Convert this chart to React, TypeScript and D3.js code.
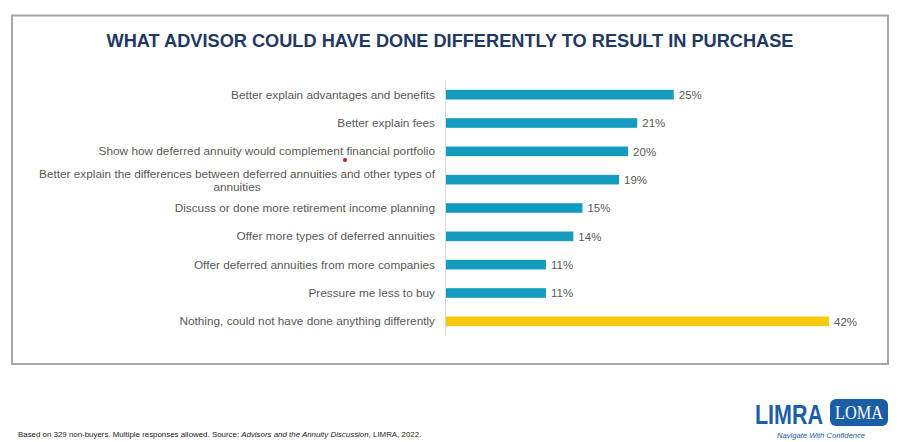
import React from "react";
import * as d3 from "d3";

const categories: string[][] = [
  ["Better explain advantages and benefits"],
  ["Better explain fees"],
  ["Show how deferred annuity would complement financial portfolio"],
  ["Better explain the differences between deferred annuities and other types of", "annuities"],
  ["Discuss or done more retirement income planning"],
  ["Offer more types of deferred annuities"],
  ["Offer deferred annuities from more companies"],
  ["Pressure me less to buy"],
  ["Nothing, could not have done anything differently"],
];
const values: number[] = [25, 21, 20, 19, 15, 14, 11, 11, 42];
const highlight: boolean[] = [false, false, false, false, false, false, false, false, true];

const title = "WHAT ADVISOR COULD HAVE DONE DIFFERENTLY TO RESULT IN PURCHASE";
const footerA = "Based on 329 non-buyers. Multiple responses allowed. Source: ";
const footerB = "Advisors and the Annuity Discussion";
const footerC = ", LIMRA, 2022.";

const W = 900;
const H = 442;
const narrow = "'Liberation Sans Narrow', 'Arial Narrow', 'Liberation Sans', Arial, sans-serif";
const sans = "'Liberation Sans', Arial, sans-serif";

export default function App() {
  const x0 = 445.5;
  const x = d3.scaleLinear().domain([0, 42]).range([x0, 829]);
  const y = d3
    .scaleBand<number>()
    .domain(d3.range(values.length))
    .range([80.5, 335.5])
    .paddingInner(0.66)
    .paddingOuter(0.33);

  return (
    <div style={{ position: "fixed", left: 0, top: 0, width: W, height: H, background: "#fff" }}>
      <svg width={W} height={H} style={{ display: "block" }}>
        <rect x={0} y={0} width={W} height={H} fill="#fff" />
        <rect x={12} y={15.5} width={876} height={348.5} fill="#fff" stroke="#a6a6a6" strokeWidth={2} />
        <text
          x={450}
          y={47}
          textAnchor="middle"
          fontFamily={narrow}
          fontWeight="bold"
          fontSize={18.5}
          fill="#1f3864"
          textLength={687}
          lengthAdjust="spacingAndGlyphs"
        >
          {title}
        </text>

        {values.map((v, i) => {
          const yc = (y(i) as number) + y.bandwidth() / 2;
          const lines = categories[i];
          return (
            <g key={i}>
              <rect
                x={x(0)}
                y={y(i)}
                width={x(v) - x(0)}
                height={y.bandwidth()}
                fill={highlight[i] ? "#f8c80a" : "#139bc0"}
              />
              <text
                x={x(v) + 5}
                y={yc + 4.2}
                fontFamily={sans}
                fontSize={11.5}
                fill="#595959"
              >
                {v}%
              </text>
              {lines.length === 1 ? (
                <text
                  x={435}
                  y={yc + 4}
                  textAnchor="end"
                  fontFamily={sans}
                  fontSize={11.8}
                  fill="#595959"
                >
                  {lines[0]}
                </text>
              ) : (
                <text
                  x={237}
                  y={yc - 1.5}
                  textAnchor="middle"
                  fontFamily={sans}
                  fontSize={11.8}
                  fill="#595959"
                >
                  {lines.map((l, k) => (
                    <tspan key={k} x={237} dy={k === 0 ? 0 : 12.5}>
                      {l}
                    </tspan>
                  ))}
                </text>
              )}
            </g>
          );
        })}
        <line x1={x0} x2={x0} y1={80.5} y2={336} stroke="#d9d9d9" strokeWidth={1} />
        <circle cx={345} cy={160} r={2} fill="#d0101a" />

        <text x={18} y={437} fontFamily={sans} fontSize={7.9} fill="#222">
          {footerA}
          <tspan fontStyle="italic">{footerB}</tspan>
          {footerC}
        </text>

        <g>
          <text
            x={755}
            y={424}
            fontFamily={narrow}
            fontWeight="bold"
            fontSize={27}
            fill="#1a5ea6"
            textLength={68}
            lengthAdjust="spacingAndGlyphs"
          >
            LIMRA
          </text>
          <rect x={830} y={399} width={58} height={27} rx={6} fill="#1a5ea6" />
          <text
            x={859}
            y={419}
            textAnchor="middle"
            fontFamily="'Liberation Serif', 'Times New Roman', serif"
            fontSize={19}
            fill="#fff"
            textLength={48}
            lengthAdjust="spacingAndGlyphs"
          >
            LOMA
          </text>
          <text
            x={821}
            y={438}
            textAnchor="middle"
            fontFamily={sans}
            fontStyle="italic"
            fontSize={7.5}
            fill="#1a5ea6"
            textLength={88}
            lengthAdjust="spacingAndGlyphs"
          >
            Navigate With Confidence
          </text>
        </g>
      </svg>
    </div>
  );
}
